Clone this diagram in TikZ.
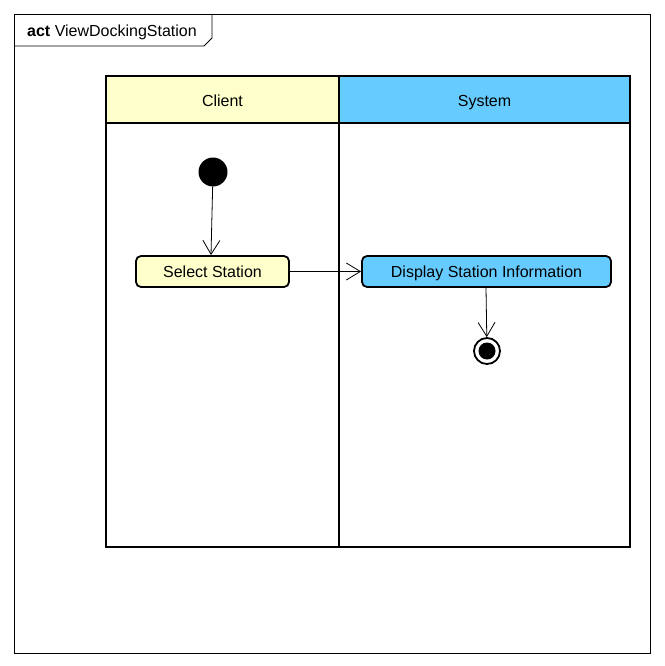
\documentclass[tikz,border=0pt]{standalone}
\usepackage{fontspec}
\setmainfont{Liberation Sans}
\usetikzlibrary{arrows.meta}
\definecolor{clientfill}{HTML}{FFFFCC}
\definecolor{systemfill}{HTML}{66CCFF}
\begin{document}
\begin{tikzpicture}[x=1pt,y=-1pt,
  frameline/.style={draw=black,line width=0.8pt},
  lane/.style={draw=black,line width=1.8pt},
  action/.style={draw=black,line width=1.8pt,rounded corners=5pt,minimum height=31pt,inner sep=0pt,
    text height=11.5pt,text depth=0pt,font=\fontsize{16}{19}\selectfont},
  flow/.style={draw=black,line width=0.8pt,-{Straight Barb[length=14pt,width=17pt,line width=0.8pt]}},
  lbl/.style={font=\fontsize{16}{19}\selectfont,inner sep=0pt}]
\useasboundingbox (0,0) rectangle (664,666);
\fill[white] (0,0) rectangle (664,666);
% outer activity frame with title tab
\draw[frameline] (14,14) rectangle (650,653);
\draw[frameline] (14,46) -- (204,46) -- (212,38) -- (212,14);
\node[anchor=base west,lbl] (title) at (27,36.5) {\textbf{act} ViewDockingStation};
% swimlane headers
\fill[clientfill] (106,76) rectangle (339,123);
\fill[systemfill] (339,76) rectangle (630,123);
\node[lbl,anchor=base] (client) at (222.5,106.5) {Client};
\node[lbl,anchor=base] (system) at (484.5,106.5) {System};
% swimlane borders
\draw[lane] (106,76) rectangle (630,547);
\draw[lane] (106,123) -- (630,123);
\draw[lane] (339,76) -- (339,547);
% initial and final nodes
\node[circle,fill=black,minimum size=29pt,inner sep=0pt] (start) at (213,172) {};
\node[action,fill=clientfill,minimum width=153pt] (select) at (212.5,271.5) {Select Station};
\node[action,fill=systemfill,minimum width=249pt] (display) at (486.5,271.5) {Display Station Information};
\node[circle,draw=black,line width=1.8pt,fill=white,minimum size=26pt,inner sep=0pt] (finish) at (487,351) {};
\node[circle,fill=black,minimum size=17pt,inner sep=0pt] (finishdot) at (487,351) {};
% control flows
\draw[flow] (start) -- (select.north -| 211,0);
\draw[flow] (select) -- (display);
\draw[flow] (display.south -| 486,0) -- (finish);
\end{tikzpicture}
\end{document}
